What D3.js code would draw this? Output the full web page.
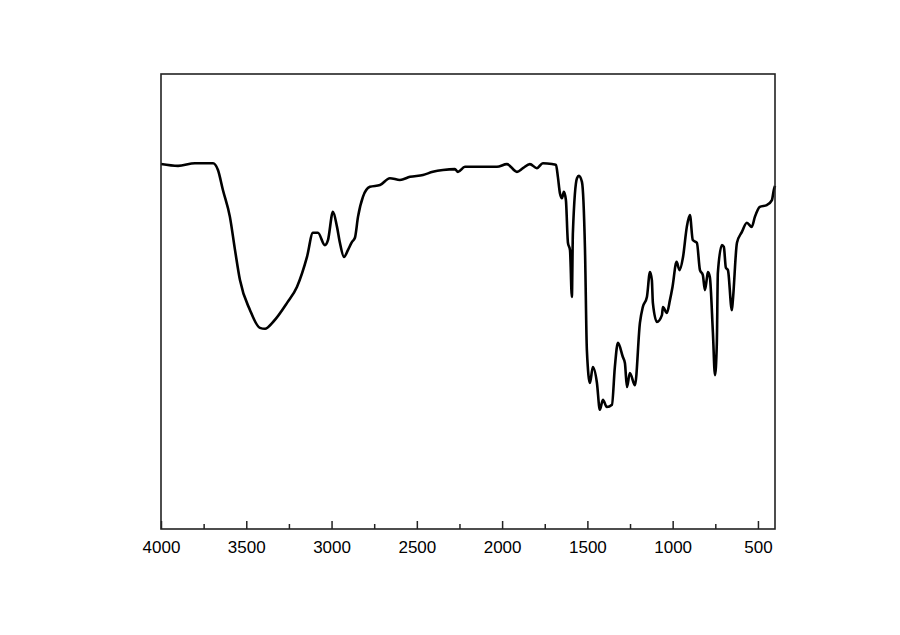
<!DOCTYPE html>
<html><head><meta charset="utf-8">
<script src="https://cdn.jsdelivr.net/npm/d3@7"></script>
<style>body{margin:0;background:#fff}svg{display:block}</style>
</head><body>
<script>
const wavenumbers = [4000,3900,3801,3695,3666,3637,3596,3566,3537,3478,3420,3390,3343,3261,3203,3144,3109,3080,3039,3021,2992,2968,2951,2927,2904,2880,2863,2845,2816,2775,2716,2658,2599,2540,2464,2406,2347,2277,2259,2218,2130,2030,1972,1913,1878,1837,1796,1761,1708,1684,1673,1661,1649,1638,1626,1614,1602,1591,1585,1561,1550,1532,1514,1503,1485,1468,1444,1427,1409,1386,1356,1339,1321,1292,1280,1268,1251,1221,1192,1175,1151,1133,1122,1116,1092,1063,1057,1034,1016,1001,977,960,940,917,899,882,858,840,823,811,799,793,782,764,752,741,735,711,700,688,676,653,647,623,594,565,536,518,489,448,418,407,400];
const transmittance = [80.2,79.8,80.4,80.4,78.9,74.5,68.6,61.3,54.7,48.1,44.2,44.0,45.5,49.7,53.2,59.8,65.1,65.1,62.4,63.5,69.7,66.4,62.9,59.8,61.3,63.1,64.0,68.6,73.0,75.2,75.6,77.1,76.7,77.4,77.8,78.5,78.9,79.1,78.5,79.6,79.6,79.6,80.2,78.5,79.3,80.2,79.3,80.4,80.2,80.0,77.4,73.8,72.7,74.1,72.3,62.9,61.3,51.0,65.1,77.1,77.6,76.3,61.3,39.3,32.1,35.6,32.1,26.2,28.4,26.8,27.3,35.6,40.9,37.8,36.5,31.2,34.3,31.6,45.3,48.8,51.0,56.5,54.7,49.7,45.5,47.0,48.8,47.5,50.3,53.2,58.7,56.9,59.6,66.4,69.0,63.5,62.9,56.9,55.8,52.5,55.2,56.5,55.4,43.1,33.8,40.9,56.3,62.4,62.0,57.4,56.9,48.1,50.3,62.9,65.3,67.3,66.4,68.6,70.8,71.2,72.3,74.5,75.4];
const majorTicks = [4000,3500,3000,2500,2000,1500,1000,500];
const minorTicks = [3750,3250,2750,2250,1750,1250,750];

const W = 900, H = 635;
const pL = 161, pR = 775, pT = 74, pB = 529;
const svg = d3.select("body").append("svg").attr("width", W).attr("height", H);
const x = d3.scaleLinear().domain([4000, 400]).range([pL, pR]);
const y = d3.scaleLinear().domain([0, 100]).range([pB, pT]);

const data = wavenumbers.map((w, i) => ({w, t: transmittance[i]}));
svg.append("path").datum(data)
  .attr("fill", "none").attr("stroke", "#000").attr("stroke-width", 2.6)
  .attr("stroke-linejoin", "round")
  .attr("d", d3.line().x(d => x(d.w)).y(d => y(d.t)).curve(d3.curveMonotoneX));

svg.append("rect").attr("x", pL).attr("y", pT).attr("width", pR - pL).attr("height", pB - pT)
  .attr("fill", "none").attr("stroke", "#222").attr("stroke-width", 1.6);

const axis = svg.append("g").attr("transform", `translate(0,${pB})`)
  .call(d3.axisBottom(x).tickValues(majorTicks).tickSize(-8).tickPadding(12).tickFormat(d3.format("d")));
axis.select(".domain").remove();
axis.selectAll("line").attr("stroke", "#222").attr("stroke-width", 1.5);
axis.selectAll("text").attr("font-family", "Liberation Sans, Arial, sans-serif").attr("font-size", 17).attr("fill", "#000");
const minor = svg.append("g").attr("transform", `translate(0,${pB})`)
  .call(d3.axisBottom(x).tickValues(minorTicks).tickSize(-5).tickFormat(""));
minor.select(".domain").remove();
minor.selectAll("line").attr("stroke", "#222").attr("stroke-width", 1.5);
</script>
</body></html>
